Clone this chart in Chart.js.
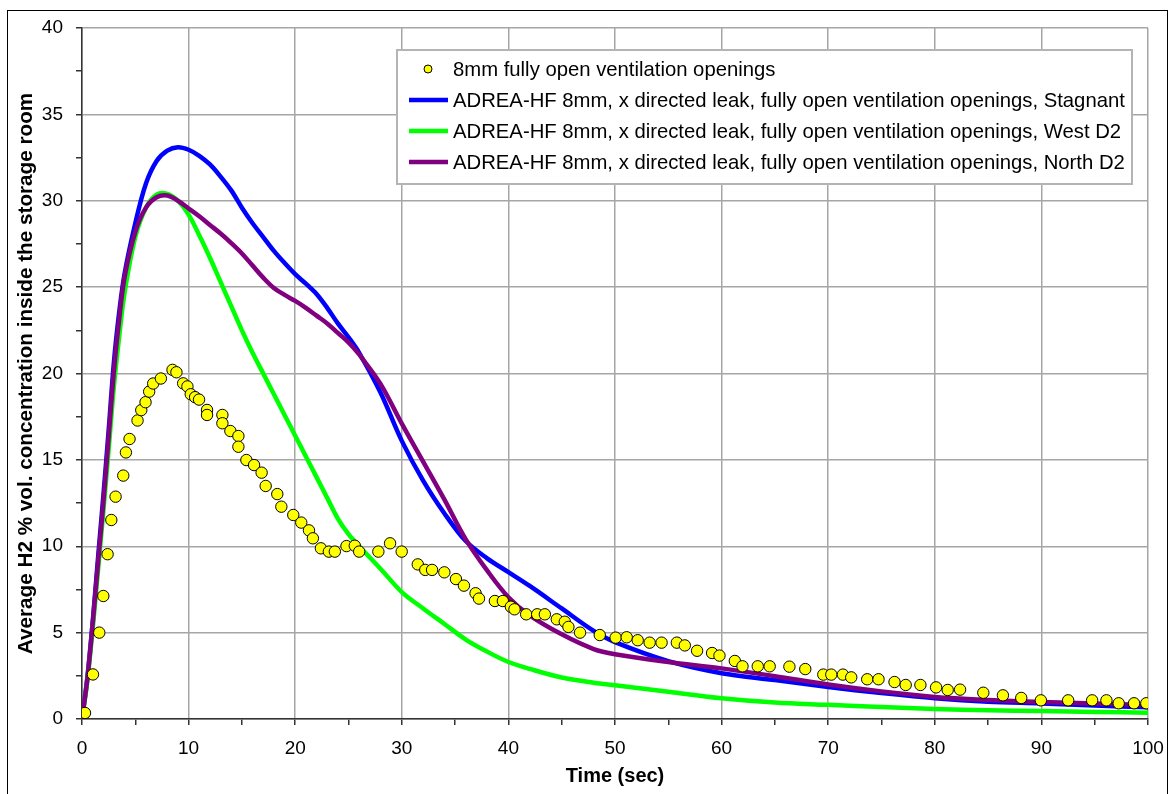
<!DOCTYPE html>
<html>
<head>
<meta charset="utf-8">
<title>H2 concentration</title>
<script src="https://cdn.jsdelivr.net/npm/chart.js@4.4.1/dist/chart.umd.min.js"></script>
<style>
    html, body { margin: 0; padding: 0; background: #fff; }
    #wrap { position: relative; width: 1171px; height: 794px; }
</style>
</head>
<body>
<div id="wrap"><canvas id="chart" width="1171" height="794"></canvas></div>
<script>
// Experiment points (time in s, concentration in %)
const expTime = [0.28, 1.03, 1.62, 2.0, 2.4, 2.75, 3.15, 3.87, 4.12, 4.46, 5.21, 5.56, 5.96, 6.3, 6.68, 7.4,
    8.49, 8.86, 9.49, 9.89, 10.2, 10.61, 10.98, 11.73, 11.73, 13.17, 13.17, 13.92, 14.67, 14.67, 15.42,
    16.14, 16.85, 17.23, 18.32, 18.7, 19.82, 20.57, 21.29, 21.66, 22.41, 23.16, 23.72, 24.81, 25.59, 26.0,
    27.8, 28.9, 29.99, 31.5, 32.2, 32.84, 33.99, 35.08, 35.83, 36.92, 37.24, 38.73, 39.48, 40.23, 40.57,
    41.67, 42.7, 43.42, 44.54, 45.29, 45.63, 46.72, 48.57, 50.06, 51.1, 52.13, 53.25, 54.37, 55.8, 56.55,
    57.7, 59.11, 59.8, 61.24, 61.96, 63.39, 64.51, 66.36, 67.85, 69.54, 70.29, 71.38, 72.16, 73.66, 74.72,
    76.22, 77.27, 78.65, 80.12, 81.21, 82.37, 84.55, 86.39, 88.11, 89.95, 92.51, 94.76, 96.1, 97.25, 98.69, 99.84];
const expConc = [0.35, 2.58, 5.0, 7.12, 9.54, 11.52, 12.87, 14.09, 15.43, 16.21, 17.28, 17.88, 18.34, 18.95, 19.42, 19.71,
    20.21, 20.07, 19.43, 19.25, 18.8, 18.63, 18.49, 17.89, 17.6, 17.6, 17.12, 16.67, 16.38, 15.76, 14.99,
    14.7, 14.26, 13.49, 13.02, 12.29, 11.81, 11.37, 10.92, 10.46, 9.88, 9.69, 9.69, 10.01, 10.03, 9.69,
    9.69, 10.17, 9.69, 8.95, 8.63, 8.63, 8.49, 8.1, 7.72, 7.28, 6.97, 6.83, 6.83, 6.5, 6.35,
    6.06, 6.06, 6.06, 5.77, 5.63, 5.33, 5.0, 4.86, 4.71, 4.73, 4.56, 4.42, 4.42, 4.42, 4.26,
    3.95, 3.82, 3.67, 3.36, 3.05, 3.05, 3.05, 3.03, 2.89, 2.57, 2.57, 2.57, 2.41, 2.3, 2.3,
    2.14, 1.97, 1.97, 1.83, 1.68, 1.7, 1.52, 1.37, 1.22, 1.08, 1.08, 1.08, 1.08, 0.91, 0.91, 0.91];

// ADREA-HF curves, sampled at these times
const curveTime = [0, 0.5, 1, 1.5, 2, 2.5, 3, 3.5, 4, 5, 6, 7, 8, 9, 10, 11, 12, 13, 14, 15, 16, 17, 18, 19, 20,
    21, 22, 23, 24, 25, 26, 28, 30, 32, 34, 36, 38, 40, 42, 45, 48, 50, 55, 60, 65, 70, 75, 80, 85, 90, 95, 100];
const stagnant = [0, 2.4, 5.6, 9.3, 12.9, 16.7, 20.7, 23.6, 25.8, 28.7, 31.0, 32.3, 32.9, 33.1, 32.95, 32.6, 32.1, 31.4, 30.6, 29.6, 28.7, 27.9, 27.1, 26.4, 25.75,
    25.2, 24.6, 23.8, 22.9, 22.1, 21.2, 18.9, 16.1, 13.8, 11.9, 10.3, 9.3, 8.5, 7.7, 6.4, 5.1, 4.45, 3.35, 2.65, 2.25, 1.85, 1.5, 1.2, 1.0, 0.9, 0.78, 0.68];
const westD2 = [0, 2.2, 5.2, 8.6, 12.0, 15.6, 19.3, 22.2, 24.7, 27.9, 29.6, 30.35, 30.4, 30.0, 29.2, 28.0, 26.7, 25.3, 23.9, 22.5, 21.2, 20.0, 18.8, 17.6, 16.4,
    15.2, 14.0, 12.8, 11.6, 10.7, 10.0, 8.7, 7.35, 6.4, 5.5, 4.6, 3.9, 3.3, 2.9, 2.4, 2.1, 1.95, 1.58, 1.2, 0.95, 0.82, 0.69, 0.58, 0.5, 0.46, 0.41, 0.36];
const northD2 = [0, 2.3, 5.5, 9.0, 12.5, 16.3, 20.2, 23.2, 25.6, 28.2, 29.6, 30.2, 30.3, 30.0, 29.55, 29.1, 28.6, 28.1, 27.55, 26.95, 26.25, 25.55, 24.95, 24.55, 24.2,
    23.8, 23.35, 22.9, 22.35, 21.8, 21.1, 19.4, 17.1, 14.9, 12.7, 10.4, 8.6, 7.05, 6.0, 4.9, 4.05, 3.75, 3.3, 2.93, 2.48, 2.0, 1.6, 1.28, 1.1, 0.98, 0.9, 0.8];

const seriesLabels = [
    '8mm fully open ventilation openings',
    'ADREA-HF 8mm, x directed leak, fully open ventilation openings, Stagnant',
    'ADREA-HF 8mm, x directed leak, fully open ventilation openings, West D2',
    'ADREA-HF 8mm, x directed leak, fully open ventilation openings, North D2'
];

const FONT = "'Liberation Sans', Arial, sans-serif";

function pairs(xs, ys) {
    return xs.map((x, i) => ({ x: x, y: ys[i] }));
}

function curve(label, values, color, order) {
    return {
        type: 'line',
        label: label,
        data: pairs(curveTime, values),
        borderColor: color,
        backgroundColor: color,
        borderWidth: 4.5,
        pointRadius: 0,
        tension: 0.35,
        fill: false,
        order: order
    };
}

// Legend box drawn inside the plot, like the original
const boxLegend = {
    id: 'boxLegend',
    afterDraw(chart) {
        const ctx = chart.ctx;
        const left = 397, top = 50, right = 1132, bottom = 184;
        ctx.save();
        ctx.fillStyle = '#fff';
        ctx.fillRect(left, top, right - left, bottom - top);
        ctx.strokeStyle = '#b4b4b4';
        ctx.lineWidth = 2;
        ctx.strokeRect(left, top, right - left, bottom - top);
        ctx.font = '20.3px ' + FONT;
        ctx.textBaseline = 'middle';
        ctx.textAlign = 'left';
        chart.data.datasets.forEach((ds, i) => {
            const y = 69 + i * 31;
            if (ds.type === 'scatter') {
                ctx.beginPath();
                ctx.arc(428, y, 4, 0, Math.PI * 2);
                ctx.fillStyle = ds.backgroundColor;
                ctx.fill();
                ctx.lineWidth = 1;
                ctx.strokeStyle = '#000';
                ctx.stroke();
            } else {
                ctx.beginPath();
                ctx.moveTo(409, y);
                ctx.lineTo(448, y);
                ctx.lineWidth = 4.5;
                ctx.strokeStyle = ds.borderColor;
                ctx.stroke();
            }
            ctx.fillStyle = '#000';
            ctx.fillText(ds.label, 453, y + 1);
        });
        ctx.restore();
    }
};

// Thin frame around the whole figure
const frame = {
    id: 'frame',
    afterDraw(chart) {
        const ctx = chart.ctx;
        ctx.save();
        ctx.strokeStyle = '#000';
        ctx.lineWidth = 1;
        ctx.strokeRect(7.5, 10.5, 1160, 800);
        ctx.restore();
    }
};

document.addEventListener('DOMContentLoaded', function() {
    const ctx = document.getElementById('chart').getContext('2d');
    new Chart(ctx, {
        data: {
            datasets: [
                {
                    type: 'scatter',
                    label: seriesLabels[0],
                    data: pairs(expTime, expConc),
                    backgroundColor: '#ffff00',
                    borderColor: '#000',
                    borderWidth: 1,
                    pointRadius: 5.7,
                    order: 0
                },
                curve(seriesLabels[1], stagnant, '#0000ff', 3),
                curve(seriesLabels[2], westD2, '#00ff00', 2),
                curve(seriesLabels[3], northD2, '#800080', 1)
            ]
        },
        options: {
            responsive: false,
            animation: false,
            layout: { padding: { top: 28, right: 23, left: 0, bottom: 0 } },
            plugins: {
                legend: { display: false },
                tooltip: { enabled: false }
            },
            scales: {
                x: {
                    type: 'linear',
                    min: 0,
                    max: 100,
                    afterFit: function(scale) {
                        scale.height = 75;
                        scale.paddingRight = 0;
                        scale.paddingLeft = 0;
                    },
                    border: { color: '#333', width: 1.5 },
                    grid: {
                        color: c => (c.tick && c.tick.value % 10 === 0) ? '#a6a6a6' : 'rgba(0,0,0,0)',
                        tickColor: '#333',
                        tickLength: 6,
                        lineWidth: 1.5
                    },
                    ticks: {
                        stepSize: 5,
                        autoSkip: false,
                        maxRotation: 0,
                        padding: 12,
                        color: '#000',
                        font: { family: FONT, size: 19 },
                        callback: v => v % 10 === 0 ? v : ''
                    },
                    title: {
                        display: true,
                        text: 'Time (sec)',
                        color: '#000',
                        font: { family: FONT, size: 20, weight: 'bold', lineHeight: 1.2 },
                        padding: { top: 4, bottom: 6 }
                    }
                },
                y: {
                    type: 'linear',
                    min: 0,
                    max: 40,
                    afterFit: function(scale) {
                        scale.width = 82;
                        scale.paddingTop = 0;
                        scale.paddingBottom = 0;
                    },
                    border: { color: '#333', width: 1.5 },
                    grid: {
                        color: c => (c.tick && c.tick.value % 5 === 0) ? '#a6a6a6' : 'rgba(0,0,0,0)',
                        tickColor: '#333',
                        tickLength: 6,
                        lineWidth: 1.5
                    },
                    ticks: {
                        stepSize: 2.5,
                        autoSkip: false,
                        padding: 13,
                        color: '#000',
                        font: { family: FONT, size: 19 },
                        callback: v => v % 5 === 0 ? v : ''
                    },
                    title: {
                        display: true,
                        text: 'Average H2 % vol. concentration inside the storage room',
                        color: '#000',
                        font: { family: FONT, size: 20.7, weight: 'bold', lineHeight: 1.2 },
                        padding: { top: 14, bottom: 0 }
                    }
                }
            }
        },
        plugins: [boxLegend, frame]
    });
});
</script>
</body>
</html>
